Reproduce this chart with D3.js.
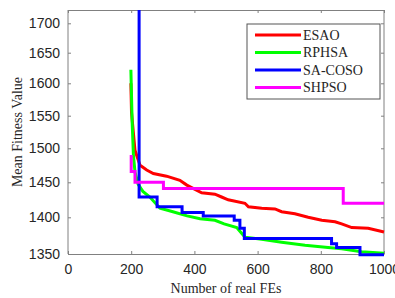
<!DOCTYPE html>
<html>
<head>
<meta charset="utf-8">
<script src="https://cdn.jsdelivr.net/npm/d3@7"></script>
<style>
  html, body { margin: 0; padding: 0; background: #fff; }
  svg { display: block; }
</style>
</head>
<body>
<div id="chart"></div>
<script>
// ---- Data ----
const xTicks = [0, 200, 400, 600, 800, 1000];
const yTicks = [1350, 1400, 1450, 1500, 1550, 1600, 1650, 1700];

const seriesNames = ['ESAO', 'RPHSA', 'SA-COSO', 'SHPSO'];
const seriesColors = ['#ff0000', '#00ff00', '#0000ff', '#ff00ff'];

const esao = [[199, 1600], [201, 1555], [212, 1497], [222, 1483], [228, 1475], [249, 1468],
  [270, 1463], [312, 1459], [354, 1453], [376, 1446], [402, 1440], [423, 1435], [465, 1433],
  [486, 1429], [507, 1425], [560, 1420], [571, 1415], [613, 1413], [655, 1412], [676, 1408],
  [718, 1405], [760, 1400], [803, 1396], [845, 1394], [866, 1391], [898, 1386], [950, 1385],
  [1000, 1380]];

const rphsa = [[199, 1622], [203, 1540], [207, 1490], [212, 1465], [222, 1447], [237, 1437],
  [259, 1429], [291, 1413], [332, 1408], [377, 1402], [418, 1398], [465, 1396], [494, 1391],
  [534, 1386], [550, 1378], [560, 1373], [613, 1370], [676, 1366], [750, 1362], [823, 1359],
  [866, 1357], [929, 1353], [1000, 1351]];

const sacoso = [[225, 1800], [225, 1429], [282, 1415], [361, 1407], [428, 1402], [526, 1396],
  [544, 1385], [558, 1371], [834, 1364], [850, 1359], [924, 1349], [1000, 1349]];

const shpso = [[200, 1490], [200, 1466], [212, 1450], [302, 1441], [871, 1420], [1000, 1420]];

// ---- Layout ----
const width = 395, height = 298;
const plot = { left: 68, right: 384, top: 10, bottom: 254 };

const svg = d3.select('#chart').append('svg')
  .attr('width', width).attr('height', height);

const x = d3.scaleLinear().domain([0, 1000]).range([plot.left, plot.right]);
// the reference's y axis is slightly stretched towards the bottom
const y = d3.scaleLinear()
  .domain([1350, 1400, 1450, 1500, 1550, 1600, 1650, 1700, 1722])
  .range([254, 217.3, 182.3, 148.3, 115.7, 83.3, 52.7, 23.3, plot.top]);

const axisColor = '#808080';
const tickFont = '"Liberation Sans", Arial, sans-serif';
const serif = '"Liberation Serif", "Times New Roman", serif';
const fmt = d3.format('d');

svg.append('defs').append('clipPath').attr('id', 'plotClip')
  .append('rect')
  .attr('x', plot.left).attr('y', plot.top)
  .attr('width', plot.right - plot.left + 4)
  .attr('height', plot.bottom - plot.top + 4);

// ---- Axes ----
const bottomAxis = svg.append('g')
  .attr('transform', `translate(0,${plot.bottom})`)
  .call(d3.axisBottom(x).tickValues(xTicks).tickFormat(fmt)
    .tickSizeInner(-3).tickSizeOuter(0).tickPadding(10));
const topAxis = svg.append('g')
  .attr('transform', `translate(0,${plot.top})`)
  .call(d3.axisTop(x).tickValues(xTicks).tickSizeInner(-3).tickSizeOuter(0).tickFormat(''));
const leftAxis = svg.append('g')
  .attr('transform', `translate(${plot.left},0)`)
  .call(d3.axisLeft(y).tickValues(yTicks).tickFormat(fmt)
    .tickSizeInner(-3).tickSizeOuter(0).tickPadding(8));
const rightAxis = svg.append('g')
  .attr('transform', `translate(${plot.right},0)`)
  .call(d3.axisRight(y).tickValues(yTicks).tickSizeInner(-3).tickSizeOuter(0).tickFormat(''));

[bottomAxis, topAxis, leftAxis, rightAxis].forEach(a => {
  a.select('.domain').attr('stroke', axisColor);
  a.selectAll('.tick line').attr('stroke', axisColor);
  a.selectAll('.tick text')
    .attr('font-family', tickFont)
    .attr('font-size', '14px')
    .attr('fill', '#262626');
});
leftAxis.select('.domain').attr('d', `M0,${plot.top}V${plot.bottom}`);
rightAxis.select('.domain').attr('d', `M0,${plot.top}V${plot.bottom}`);

// ---- Lines ----
const lines = svg.append('g').attr('clip-path', 'url(#plotClip)');
const allSeries = [esao, rphsa, sacoso, shpso];
const curves = [d3.curveLinear, d3.curveLinear, d3.curveStepAfter, d3.curveStepAfter];

allSeries.forEach((s, i) => {
  lines.append('path')
    .datum(s)
    .attr('fill', 'none')
    .attr('stroke', seriesColors[i])
    .attr('stroke-width', 3)
    .attr('d', d3.line().x(d => x(d[0])).y(d => y(d[1])).curve(curves[i]));
});

// ---- Axis titles ----
svg.append('text')
  .attr('x', (plot.left + plot.right) / 2).attr('y', 293)
  .attr('text-anchor', 'middle')
  .attr('font-family', serif).attr('font-size', '14px').attr('fill', '#262626')
  .text('Number of real FEs');

svg.append('text')
  .attr('transform', `translate(22,${(plot.top + plot.bottom) / 2}) rotate(-90)`)
  .attr('text-anchor', 'middle')
  .attr('font-family', serif).attr('font-size', '14px').attr('fill', '#262626')
  .text('Mean Fitness Value');

// ---- Legend ----
const legend = svg.append('g').attr('transform', 'translate(247,24)');
legend.append('rect')
  .attr('width', 133).attr('height', 75)
  .attr('fill', '#fff').attr('stroke', '#555').attr('stroke-width', 1);

seriesNames.forEach((name, i) => {
  const ly = 11 + i * 17.5;
  legend.append('line')
    .attr('x1', 8).attr('x2', 54).attr('y1', ly).attr('y2', ly)
    .attr('stroke', seriesColors[i]).attr('stroke-width', 3);
  legend.append('text')
    .attr('x', 56).attr('y', ly)
    .attr('dominant-baseline', 'central')
    .attr('font-family', serif).attr('font-size', '14px').attr('fill', '#262626')
    .text(name);
});
</script>
</body>
</html>
